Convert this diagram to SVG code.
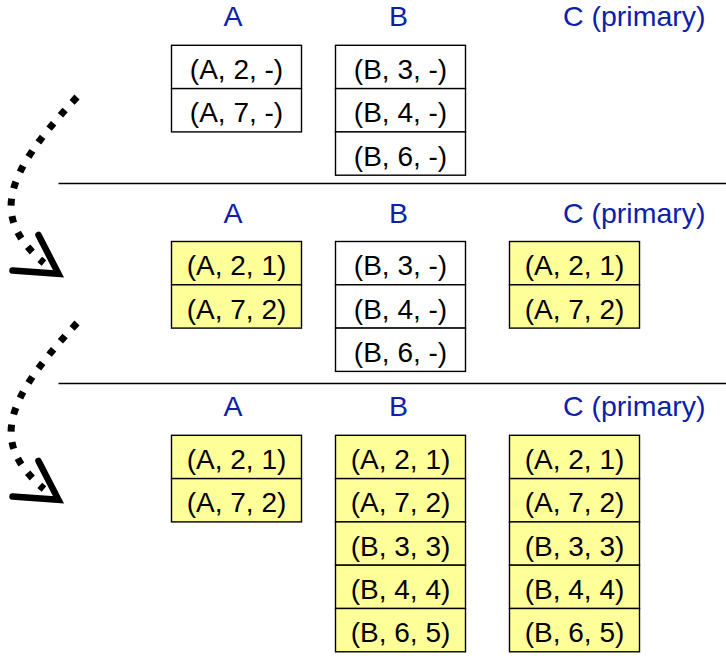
<svg xmlns="http://www.w3.org/2000/svg" width="726" height="656" viewBox="0 0 726 656">
<style>
.bg{fill:#ffffff}
.cell{fill:#ffffff;stroke:#000;stroke-width:1.4}
.done{fill:#ffff99;stroke:#000;stroke-width:1.4}
.t{font-family:"Liberation Sans",Arial,sans-serif;font-size:28px;fill:#000;text-anchor:middle}
.h{font-family:"Liberation Sans",Arial,sans-serif;font-size:28.5px;fill:#0c20a8}
.sep{stroke:#000;stroke-width:1.3}
.dots{fill:none;stroke:#000;stroke-width:7;stroke-dasharray:7 10.5}
.head{fill:none;stroke:#000;stroke-width:6.5;stroke-linecap:round;stroke-linejoin:miter}
</style>
<rect class="bg" x="0" y="0" width="726" height="656"/>

<g id="separators">
<line class="sep" x1="58.5" y1="183.5" x2="726" y2="183.5"/>
<line class="sep" x1="58.5" y1="383.5" x2="726" y2="383.5"/>
</g>

<g id="headers">
<text class="h" x="233" y="26" text-anchor="middle">A</text>
<text class="h" x="398.5" y="26" text-anchor="middle">B</text>
<text class="h" x="563" y="26">C (primary)</text>
<text class="h" x="233" y="223" text-anchor="middle">A</text>
<text class="h" x="398.5" y="223" text-anchor="middle">B</text>
<text class="h" x="563" y="223">C (primary)</text>
<text class="h" x="233" y="416" text-anchor="middle">A</text>
<text class="h" x="398.5" y="416" text-anchor="middle">B</text>
<text class="h" x="563" y="416">C (primary)</text>
</g>

<g id="stage1-A">
<rect class="cell" x="171.5" y="45.3" width="130" height="43.3"/>
<rect class="cell" x="171.5" y="88.6" width="130" height="43.3"/>
<text class="t" x="236.5" y="79">(A, 2, -)</text>
<text class="t" x="236.5" y="122.3">(A, 7, -)</text>
</g>

<g id="stage1-B">
<rect class="cell" x="335.5" y="45.3" width="130" height="43.3"/>
<rect class="cell" x="335.5" y="88.6" width="130" height="43.3"/>
<rect class="cell" x="335.5" y="131.9" width="130" height="43.3"/>
<text class="t" x="400.5" y="79">(B, 3, -)</text>
<text class="t" x="400.5" y="122.3">(B, 4, -)</text>
<text class="t" x="400.5" y="165.6">(B, 6, -)</text>
</g>

<g id="stage2-A">
<rect class="done" x="171.5" y="241.5" width="130" height="43.3"/>
<rect class="done" x="171.5" y="284.8" width="130" height="43.3"/>
<text class="t" x="236.5" y="275.2">(A, 2, 1)</text>
<text class="t" x="236.5" y="318.5">(A, 7, 2)</text>
</g>

<g id="stage2-B">
<rect class="cell" x="335.5" y="241.5" width="130" height="43.3"/>
<rect class="cell" x="335.5" y="284.8" width="130" height="43.3"/>
<rect class="cell" x="335.5" y="328.1" width="130" height="43.3"/>
<text class="t" x="400.5" y="275.2">(B, 3, -)</text>
<text class="t" x="400.5" y="318.5">(B, 4, -)</text>
<text class="t" x="400.5" y="361.8">(B, 6, -)</text>
</g>

<g id="stage2-C">
<rect class="done" x="509.5" y="241.5" width="130" height="43.3"/>
<rect class="done" x="509.5" y="284.8" width="130" height="43.3"/>
<text class="t" x="574.5" y="275.2">(A, 2, 1)</text>
<text class="t" x="574.5" y="318.5">(A, 7, 2)</text>
</g>

<g id="stage3-A">
<rect class="done" x="171.5" y="435.3" width="130" height="43.3"/>
<rect class="done" x="171.5" y="478.6" width="130" height="43.3"/>
<text class="t" x="236.5" y="469">(A, 2, 1)</text>
<text class="t" x="236.5" y="512.3">(A, 7, 2)</text>
</g>

<g id="stage3-B">
<rect class="done" x="335.5" y="435.3" width="130" height="43.3"/>
<rect class="done" x="335.5" y="478.6" width="130" height="43.3"/>
<rect class="done" x="335.5" y="521.9" width="130" height="43.3"/>
<rect class="done" x="335.5" y="565.2" width="130" height="43.3"/>
<rect class="done" x="335.5" y="608.5" width="130" height="43.3"/>
<text class="t" x="400.5" y="469">(A, 2, 1)</text>
<text class="t" x="400.5" y="512.3">(A, 7, 2)</text>
<text class="t" x="400.5" y="555.6">(B, 3, 3)</text>
<text class="t" x="400.5" y="598.9">(B, 4, 4)</text>
<text class="t" x="400.5" y="642.2">(B, 6, 5)</text>
</g>

<g id="stage3-C">
<rect class="done" x="509.5" y="435.3" width="130" height="43.3"/>
<rect class="done" x="509.5" y="478.6" width="130" height="43.3"/>
<rect class="done" x="509.5" y="521.9" width="130" height="43.3"/>
<rect class="done" x="509.5" y="565.2" width="130" height="43.3"/>
<rect class="done" x="509.5" y="608.5" width="130" height="43.3"/>
<text class="t" x="574.5" y="469">(A, 2, 1)</text>
<text class="t" x="574.5" y="512.3">(A, 7, 2)</text>
<text class="t" x="574.5" y="555.6">(B, 3, 3)</text>
<text class="t" x="574.5" y="598.9">(B, 4, 4)</text>
<text class="t" x="574.5" y="642.2">(B, 6, 5)</text>
</g>

<g id="connectors">
<g id="arrow1">
<path class="dots" d="M77,97 C2,177 -9,218 44,263"/>
<polyline class="head" points="38.5,235 58.5,273.8 12.5,270.5"/>
</g>
<g id="arrow2" transform="translate(0,226)">
<path class="dots" d="M77,97 C2,177 -9,218 44,263"/>
<polyline class="head" points="38.5,235 58.5,273.8 12.5,270.5"/>
</g>
</g>
</svg>
